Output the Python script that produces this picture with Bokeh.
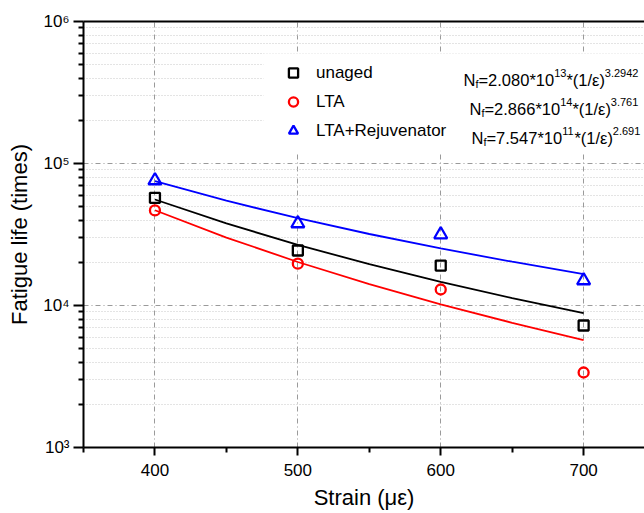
from bokeh.plotting import figure
from bokeh.models import (Range1d, LinearAxis, FixedTicker, Legend, LegendItem,
                          Label, BoxAnnotation)
from bokeh.embed import file_html
from bokeh.resources import INLINE

# ---- data ----
strain = [400, 500, 600, 700]
unaged = [57300, 24400, 19100, 7230]
lta = [46700, 19700, 12960, 3375]
rejuv = [75900, 37800, 31600, 15000]

fit_strain = [400, 450, 500, 550, 600, 650, 700]
fit_unaged = [55770, 37830, 26740, 19540, 14670, 11270, 8825]
fit_lta = [46880, 30100, 20250, 14150, 10200, 7549, 5713]
fit_rejuv = [75120, 54700, 41190, 31880, 25220, 20340, 16660]

series_names = ["unaged", "LTA", "LTA+Rejuvenator"]
eq_coef = ["2.080", "2.866", "7.547"]
eq_exp10 = ["13", "14", "11"]
eq_power = ["3.2942", "3.761", "2.691"]

x_ticks = [400, 500, 600, 700]
x_minor = [350, 450, 550, 650, 750]
y_ticks = [1000, 10000, 100000, 1000000]
y_tick_labels = ["10\u00b3", "10\u2074", "10\u2075", "10\u2076"]

FONT = "Liberation Sans"
X0, X1 = 350, 742.6
W, H = 644, 513
L, T, B = 83, 21, 66
FW = W - L
FH = H - T - B


def px_x(px):
    return X0 + (px - L) * (X1 - X0) / FW


def px_y(py):
    return 10 ** (3 + (H - B - py) / (FH / 3))


p = figure(width=W, height=H, x_range=Range1d(X0, X1), y_range=Range1d(1e3, 1e6),
           y_axis_type="log", output_backend="svg", toolbar_location=None,
           min_border_left=L, min_border_right=0, min_border_top=T,
           min_border_bottom=B)
p.outline_line_color = None
p.background_fill_color = "white"

xa = p.below[0]
xa.ticker = FixedTicker(ticks=x_ticks, minor_ticks=x_minor)
ya = p.left[0]
y_minor = [k * 10 ** e for e in (3, 4, 5) for k in range(2, 10)]
ya.ticker = FixedTicker(ticks=y_ticks, minor_ticks=y_minor)
ya.major_label_overrides = {t: lab for t, lab in zip(y_ticks, y_tick_labels)}

for ax in (xa, ya):
    ax.axis_line_width = 2
    ax.axis_line_color = "black"
    ax.major_tick_in = 0
    ax.minor_tick_in = 0
    ax.major_tick_line_width = 2
    ax.minor_tick_line_width = 2
    ax.major_label_text_font = FONT
    ax.major_label_text_font_size = "17px"
    ax.major_label_text_color = "black"
    ax.axis_label_text_font = FONT
    ax.axis_label_text_font_size = "22px"
    ax.axis_label_text_font_style = "normal"
    ax.axis_label_text_color = "black"

xa.major_tick_out = 8
xa.minor_tick_out = 5
xa.major_label_standoff = 8
xa.axis_label = "Strain (\u03bc\u03b5)"
xa.axis_label_standoff = 6

ya.major_tick_out = 10
ya.minor_tick_out = 5
ya.major_label_standoff = 4
ya.axis_label = "Fatigue life (times)"
ya.axis_label_standoff = 8

# top border
top_axis = LinearAxis(ticker=FixedTicker(ticks=[]), axis_line_width=2,
                      major_tick_in=0, major_tick_out=0, minor_tick_in=0, minor_tick_out=0,
                      major_label_standoff=0, axis_label=None)
p.add_layout(top_axis, "above")

p.xgrid.grid_line_color = "#9a9a9a"
p.xgrid.grid_line_dash = "5 3 1 3"
p.xgrid.grid_line_width = 1
p.ygrid.grid_line_color = "#9a9a9a"
p.ygrid.grid_line_dash = "5 3 1 3"
p.ygrid.grid_line_width = 1
p.ygrid.minor_grid_line_color = "#c8c8c8"
p.ygrid.minor_grid_line_dash = "1 2"
p.ygrid.minor_grid_line_width = 1

# white legend box
box = BoxAnnotation(left=px_x(263), right=X1, bottom=px_y(152), top=px_y(53),
                    fill_color="white", fill_alpha=1.0, line_color=None, level="glyph")
p.add_layout(box)

# fit lines
p.line(fit_strain, fit_unaged, line_color="black", line_width=1.8)
p.line(fit_strain, fit_lta, line_color="red", line_width=1.8)
p.line(fit_strain, fit_rejuv, line_color="blue", line_width=1.8)

# measured points
r1 = p.scatter(strain, unaged, marker="square", size=10, fill_color=None,
               line_color="black", line_width=2.3)
r2 = p.scatter(strain, lta, marker="circle", size=10, fill_color=None,
               line_color="red", line_width=2.3)
r3 = p.scatter(strain, rejuv, marker="triangle", size=13, fill_color=None,
               line_color="blue", line_width=2.3)

legend = Legend(items=[LegendItem(label=series_names[0], renderers=[r1]),
                       LegendItem(label=series_names[1], renderers=[r2]),
                       LegendItem(label=series_names[2], renderers=[r3])],
                location=(198, 305), padding=0, margin=0, spacing=6,
                glyph_width=24, glyph_height=23, label_height=23, label_standoff=11,
                label_text_font=FONT, label_text_font_size="17px",
                label_text_color="black", border_line_color=None,
                background_fill_alpha=0)
p.add_layout(legend, "center")

# equations
MAIN, SMALL = 16.5, 11
WID = {"N": 722, "f": 278, "=": 584, ".": 278, "*": 389, "(": 333, ")": 333,
       "/": 278, "\u03b5": 440}
for d in "0123456789":
    WID[d] = 556


def tw(s, size):
    return sum(WID.get(c, 556) for c in s) / 1000.0 * size


row_y = [73, 102, 131]
row_x = [463, 469, 471]
for i in range(3):
    base = row_y[i] + 6
    pieces = [("N", MAIN, 0), ("f", SMALL, 4), ("=" + eq_coef[i] + "*10", MAIN, 0),
              (eq_exp10[i], SMALL, -7), ("*(1/\u03b5)", MAIN, 0),
              (eq_power[i], SMALL, -7)]
    cx = row_x[i]
    for txt, size, dy in pieces:
        p.add_layout(Label(x=px_x(cx), y=px_y(base + dy), text=txt,
                           text_font=FONT, text_font_size=f"{size}px",
                           text_baseline="alphabetic", text_align="left",
                           text_color="black"))
        cx += tw(txt, size)

open("out.html", "w").write(file_html(p, INLINE))
